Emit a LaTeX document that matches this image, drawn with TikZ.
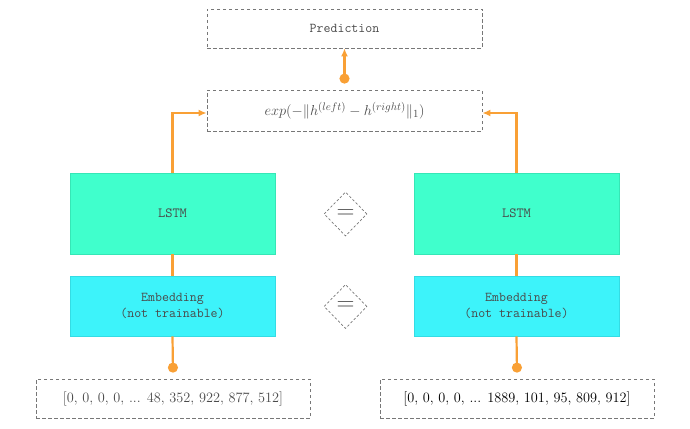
\documentclass[tikz,border=0pt]{standalone}
\usetikzlibrary{arrows.meta,shapes.geometric,calc}
\definecolor{dashgray}{HTML}{777777}
\definecolor{textgray}{HTML}{4A4A4A}
\definecolor{lstmfill}{HTML}{40FFCC}
\definecolor{lstmedge}{HTML}{36E6B6}
\definecolor{embfill}{HTML}{3DF3FA}
\definecolor{embedge}{HTML}{34DCE4}
\definecolor{conncol}{HTML}{F9A035}
\begin{document}
\begin{tikzpicture}[x=1pt,y=-1pt,
  dbox/.style={draw=dashgray, dash pattern=on 3.5pt off 2.5pt, line width=0.8pt, inner sep=0pt, text=textgray},
  lstmbox/.style={draw=lstmedge, fill=lstmfill, line width=0.6pt, minimum width=205pt, minimum height=81pt, inner sep=0pt, text=textgray, font=\fontsize{14}{16}\selectfont\ttfamily},
  embbox/.style={draw=embedge, fill=embfill, line width=0.6pt, minimum width=205pt, minimum height=60pt, inner sep=0pt, text=textgray, align=center, font=\fontsize{13.5}{15.5}\selectfont\ttfamily},
  eqdia/.style={diamond, draw=dashgray, dash pattern=on 2.5pt off 2pt, line width=0.7pt, minimum width=43pt, minimum height=44pt, inner sep=0pt, text=textgray, font=\fontsize{26}{26}\selectfont},
  conn/.style={draw=conncol, line width=2.2pt},
  dot/.style={{Circle[length=10pt,width=10pt]}-},
  dotarr/.style={{Circle[length=10pt,width=10pt]}-{Latex[length=8pt,width=7pt]}},
  arr/.style={-{Latex[length=8pt,width=7pt]}}
]
\useasboundingbox (0,0) rectangle (690,428);

\node[dbox, minimum width=275pt, minimum height=39pt, font=\fontsize{13.5}{15}\selectfont\ttfamily] (pred) at (344.5,28.5) {Prediction};
\node[dbox, minimum width=275pt, minimum height=41pt, font=\fontsize{15.4}{17}\selectfont] (exp) at (344.5,110.5) {$exp(-\|h^{(left)}-h^{(right)}\|_1)$};

\node[lstmbox] (lstmL) at (172.5,213.5) {LSTM};
\node[lstmbox] (lstmR) at (516.5,213.5) {LSTM};
\node[embbox] (embL) at (172.5,306) {Embedding\\(not trainable)};
\node[embbox] (embR) at (516.5,306) {Embedding\\(not trainable)};

\node[eqdia] (eq1) at (345.5,214) {$=$};
\node[eqdia] (eq2) at (345.5,306.5) {$=$};

\node[dbox, minimum width=274pt, minimum height=39pt, font=\fontsize{14.3}{16}\selectfont] (inL) at (173,398.5) {[0, 0, 0, 0, ... 48, 352, 922, 877, 512]};
\node[dbox, minimum width=274pt, minimum height=39pt, text=black, font=\fontsize{14.3}{16}\selectfont] (inR) at (517,398.5) {[0, 0, 0, 0, ... 1889, 101, 95, 809, 912]};

\coordinate (dL) at ($(inL.north)+(0,-6)$);
\coordinate (dR) at ($(inR.north)+(0,-6)$);
\coordinate (dE) at ($(exp.north)+(0,-6)$);

\draw[conn,dot] (dL) -- (embL.south);
\draw[conn,dot] (dR) -- (embR.south);
\draw[conn] (embL.north) -- (lstmL.south);
\draw[conn] (embR.north) -- (lstmR.south);
\draw[conn,arr] (lstmL.north) |- ($(exp.west)+(0,2.5)$);
\draw[conn,arr] (lstmR.north) |- ($(exp.east)+(0,2.5)$);
\draw[conn,dotarr] (dE) -- (pred.south);
\end{tikzpicture}
\end{document}
